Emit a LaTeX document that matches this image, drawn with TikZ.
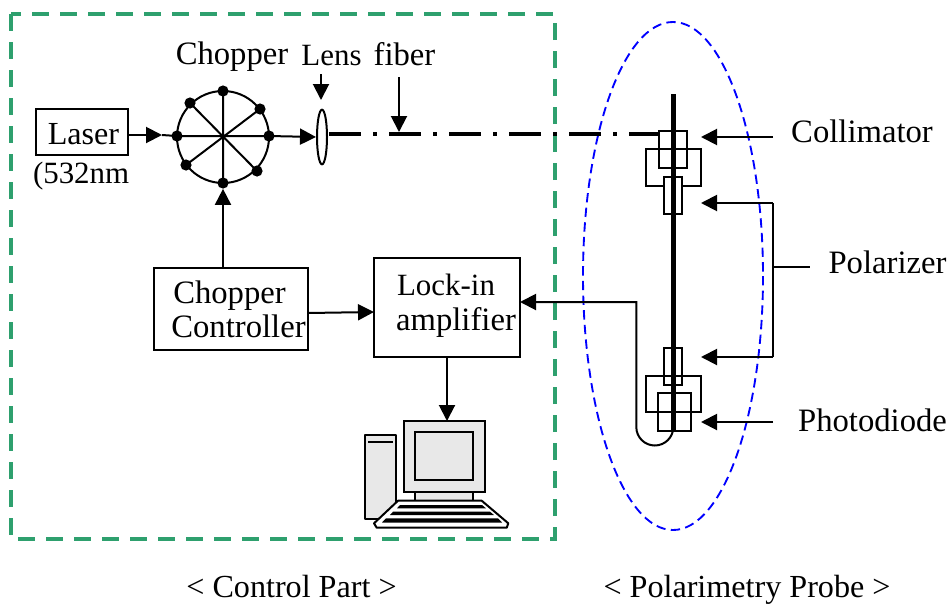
\documentclass[tikz,border=0pt]{standalone}
\usepackage{fontspec}
\setmainfont{Liberation Serif}
\usetikzlibrary{arrows.meta,shapes.geometric}
\definecolor{frameGreen}{RGB}{46,160,110}
\definecolor{pcGray}{RGB}{232,232,232}
\tikzset{
  px/.style={x=0.75pt,y=-0.75pt},
  wire/.style={line width=1.5pt,draw=black},
  arrowed/.style={wire,-{Triangle[length=12pt,width=12pt]}},
  sizedbox/.style 2 args={draw=black,line width=1.5pt,fill=white,inner sep=0pt,outer sep=0pt,minimum width=#1*0.75pt,minimum height=#2*0.75pt},
  blob/.style={circle,fill=black,inner sep=0pt,minimum size=8.4pt},
  label/.style={inner sep=0pt,outer sep=0pt,anchor=base,font=\fontsize{24.5}{28}\selectfont,text=black},
  labelsm/.style={label,font=\fontsize{23.2}{28}\selectfont},
  labelmd/.style={label,font=\fontsize{24.1}{28}\selectfont},
  pc/.style={line width=1.5pt,draw=black,fill=pcGray,line join=round},
}
\begin{document}
\begin{tikzpicture}[px]
\useasboundingbox (0,0) rectangle (952,607);
% frames
\draw[frameGreen,line width=2.8pt,dash pattern=on 12.5pt off 8.5pt] (11,14) rectangle (555,539);
\draw[blue,line width=1.4pt,dash pattern=on 7pt off 4pt] (673,276) ellipse [x radius=90,y radius=254];
% texts
\node[label] (tChopper) at (232,64) {Chopper};
\node[labelsm] (tLens) at (331.5,65) {Lens};
\node[label] (tFiber) at (404.5,65) {fiber};
\node[labelsm,anchor=base west] (tNm) at (33,183) {(532nm};
\node[label] (tCol) at (862,142.3) {Collimator};
\node[label] (tPol) at (887.5,273) {Polarizer};
\node[label] (tPho) at (872.5,431.7) {Photodiode};
\node[labelmd] (tCP) at (291.5,597) {\textless{} Control Part \textgreater};
\node[labelmd] (tPP) at (747,597) {\textless{} Polarimetry Probe \textgreater};
% boxes
\node[sizedbox={92}{46}] (laser) at (82,132) {};
\node[labelmd] (tLaser) at (83.5,144) {Laser};
\node[sizedbox={154}{82}] (ctrl) at (231,309) {};
\node[label] (tC1) at (229.5,303.3) {Chopper};
\node[label] (tC2) at (238.5,337.7) {Controller};
\node[sizedbox={146}{99}] (lock) at (447,307.5) {};
\node[labelsm] (tL1) at (446,295.7) {Lock-in};
\node[label] (tL2) at (456,330) {amplifier};
% chopper wheel
\coordinate (wc) at (223,137);
\draw[wire] (wc) circle [radius=46];
\node[blob] (d1) at (177,136) {};
\node[blob] (d2) at (269,136) {};
\node[blob] (d3) at (223,91) {};
\node[blob] (d4) at (223,183) {};
\node[blob] (d5) at (190,103) {};
\node[blob] (d6) at (260,109) {};
\node[blob] (d7) at (186,165) {};
\node[blob] (d8) at (257,171) {};
\draw[wire] (d1.center)--(d2.center) (d3.center)--(d4.center) (d5.center)--(d8.center) (d6.center)--(d7.center);
% lens
\node[draw=black,line width=1.5pt,ellipse,fill=white,inner sep=0pt,minimum width=7.5pt,minimum height=41pt] (lens) at (322,137) {};
% upper arrows
\coordinate (lasTip) at (162,135);
\draw[wire] (lasTip) -- (d1.center);
\draw[arrowed] (laser.east|-lasTip) -- (lasTip);
\draw[arrowed] (d2.center) -- (lens.west);
\coordinate (aL) at (321,74); \coordinate (aLt) at (321,100);
\draw[arrowed] (aL) -- (aLt);
\coordinate (aF) at (399,77); \coordinate (aFt) at (399,132);
\draw[arrowed] (aF) -- (aFt);
\draw[arrowed] (ctrl.north-|d4) -- (d4.south);
\draw[arrowed] (ctrl.east|-0,313) -- (lock.west|-0,312);
% fibre
\coordinate (fS) at (329,134); \coordinate (fE) at (660,134);
% probe
\node[sizedbox={55}{37},fill=none] (bigU) at (673.2,167.6) {};
\node[sizedbox={28}{37},fill=none] (coll) at (673,149.3) {};
\node[sizedbox={18.5}{37}] (polU) at (673,195) {};
\node[sizedbox={18.5}{37}] (polL) at (673,366.7) {};
\node[sizedbox={55}{36.5},fill=none] (bigL) at (673.2,393.8) {};
\node[sizedbox={33}{38},fill=none] (pd) at (674.3,411.5) {};
\coordinate (rT) at (673.3,94); \coordinate (rB) at (673.3,430);
\draw[line width=3.9pt] (rT) -- (rB);
\draw[line width=3pt,dash pattern=on 24pt off 9pt on 3pt off 9pt] (fS) -- (fE);
% right arrows
\coordinate (cT) at (773,137); \coordinate (cH) at (701,137);
\draw[arrowed] (cT) -- (cH);
\coordinate (pA) at (701,203); \coordinate (pB) at (773,203); \coordinate (pC) at (773,357); \coordinate (pD) at (701,357); \coordinate (pM) at (773,267); \coordinate (pE) at (810,267);
\draw[arrowed] (pB) -- (pA);
\draw[arrowed] (pC) -- (pD);
\draw[wire] (pB) -- (pC);
\draw[wire] (pM) -- (pE);
\coordinate (dT) at (773,422); \coordinate (dH) at (701,422);
\draw[arrowed] (dT) -- (dH);
% return fibre
\draw[arrowed] (rB) -- ++(0,-3) arc[start angle=0,end angle=180,radius=18.5] -- (636.3,302) -- (lock.east|-0,302);
\draw[arrowed] (lock.south-|447,0) -- (447,421);
% computer
\draw[pc] (364.7,434.7) rectangle (395.7,519.3);
\draw[line width=2.2pt] (368,442) -- (392.7,442);
\node[sizedbox={81}{71},fill=pcGray] (mon) at (444.4,456.2) {};
\node[sizedbox={58}{48},fill=pcGray] (scr) at (444.2,456) {};
\draw[pc] (415,491.7) rectangle (473.3,502);
\draw[pc,fill=white] (398,500.7) -- (481.7,500.7) -- (508.3,523.3) -- (506.7,527.7) -- (376.7,527.7) -- (374,523.3) -- cycle;
\fill[black] (400,505) -- (482,505) -- (486,508.3) -- (397,508.3) -- cycle;
\fill[black] (393,511.7) -- (490,511.7) -- (494,515) -- (390,515) -- cycle;
\fill[black] (386,518.3) -- (498,518.3) -- (502,522.5) -- (382,522.5) -- cycle;
\end{tikzpicture}
\end{document}
